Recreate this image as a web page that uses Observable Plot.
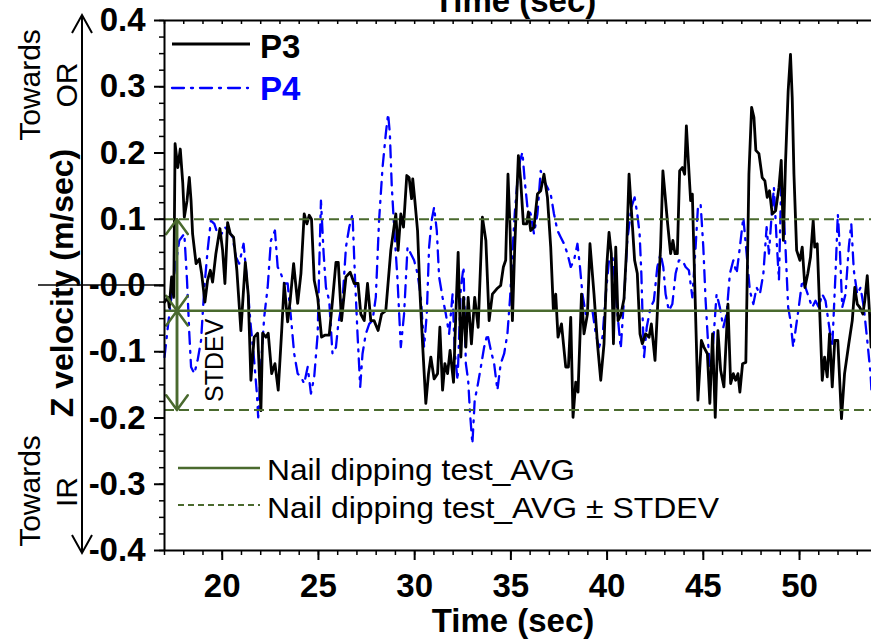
<!DOCTYPE html>
<html><head><meta charset="utf-8">
<script src="https://cdn.jsdelivr.net/npm/d3@7"></script>
<script src="https://cdn.jsdelivr.net/npm/@observablehq/plot@0.6"></script>
<style>
html,body{margin:0;padding:0;background:#fff;}
#chart{width:871px;height:644px;overflow:hidden;}
</style></head><body><div id="chart"></div>
<script>
// ---- data ----
const p3Time = [17.00,17.18,17.25,17.37,17.48,17.55,17.69,17.82,17.95,18.03,
18.17,18.29,18.38,18.46,18.64,18.81,18.93,19.10,19.24,19.38,
19.50,19.67,19.88,20.02,20.14,20.28,20.42,20.59,20.76,20.97,
21.20,21.35,21.49,21.66,21.84,22.01,22.10,22.27,22.39,22.57,
22.74,22.91,23.09,23.22,23.40,23.53,23.71,23.92,24.09,24.26,
24.40,24.52,24.64,24.78,24.96,25.16,25.33,25.56,25.73,25.91,
26.03,26.20,26.43,26.65,26.86,27.06,27.20,27.38,27.55,27.72,
27.89,28.10,28.28,28.50,28.76,29.02,29.14,29.28,29.42,29.59,
29.71,29.84,29.90,30.01,30.15,30.28,30.42,30.58,30.72,30.84,
31.01,31.19,31.31,31.45,31.57,31.71,31.84,32.02,32.14,32.26,
32.40,32.54,32.66,32.78,32.95,33.12,33.30,33.52,33.70,33.87,
34.04,34.27,34.47,34.61,34.73,34.85,34.96,35.08,35.20,35.39,
35.51,35.65,35.82,35.91,36.03,36.20,36.38,36.55,36.72,36.90,
37.07,37.21,37.33,37.45,37.63,37.85,37.99,38.11,38.23,38.37,
38.49,38.67,38.80,38.98,39.11,39.32,39.50,39.67,39.84,39.98,
40.10,40.22,40.33,40.45,40.57,40.71,40.88,41.02,41.14,41.32,
41.43,41.57,41.71,41.83,42.00,42.18,42.30,42.49,42.64,42.78,
42.90,43.01,43.13,43.30,43.42,43.53,43.65,43.77,43.91,44.03,
44.12,44.22,44.34,44.43,44.55,44.72,44.90,45.03,45.21,45.34,
45.48,45.62,45.76,45.90,46.07,46.28,46.42,46.56,46.68,46.80,
46.90,47.04,47.21,47.37,47.51,47.63,47.73,47.89,48.06,48.20,
48.32,48.44,48.58,48.76,48.93,49.05,49.16,49.27,49.41,49.53,
49.62,49.71,49.85,50.02,50.14,50.28,50.43,50.57,50.71,50.79,
50.92,51.06,51.18,51.30,51.44,51.56,51.70,51.83,51.99,52.18,
52.34,52.56,52.74,52.87,53.00,53.13,53.29,53.39,53.52,53.64,
53.72];
const p3Velocity = [-0.025,-0.018,-0.033,0.013,-0.018,0.214,0.178,0.206,0.154,0.103,
0.128,0.163,0.128,0.078,0.033,0.040,0.018,-0.025,0.008,0.023,
0.005,0.048,0.086,0.053,0.003,0.095,0.078,0.073,0.023,-0.068,
0.035,-0.013,-0.143,-0.078,-0.072,-0.189,-0.072,-0.078,-0.072,-0.133,
-0.118,-0.158,-0.068,0.003,-0.055,-0.023,0.033,-0.027,0.018,0.108,
0.093,0.106,0.100,0.008,-0.018,-0.078,-0.075,-0.075,-0.023,0.035,
0.035,-0.053,0.013,0.020,0.003,0.003,-0.043,-0.053,0.003,-0.053,
-0.053,-0.068,-0.043,-0.038,0.053,0.108,0.053,0.108,0.088,0.166,
0.163,0.131,0.161,0.128,0.083,-0.013,-0.093,-0.178,-0.133,-0.108,
-0.141,-0.133,-0.063,-0.158,-0.118,-0.133,-0.098,-0.146,-0.043,0.050,
-0.108,-0.018,-0.093,-0.018,-0.088,-0.018,-0.063,0.103,0.068,-0.053,
-0.013,-0.005,0.000,0.028,0.038,0.168,0.083,-0.053,0.058,0.196,
0.158,0.093,0.093,0.111,0.083,0.088,0.138,0.143,0.168,0.133,
0.058,-0.038,-0.013,-0.078,-0.058,-0.123,-0.123,-0.048,-0.199,-0.146,
-0.161,-0.013,-0.073,-0.043,0.063,-0.013,-0.088,-0.143,-0.088,0.028,
0.080,0.048,-0.088,0.058,-0.053,-0.045,-0.020,0.060,0.168,0.088,
0.038,0.018,-0.073,-0.088,-0.073,-0.078,-0.058,-0.113,-0.023,0.058,
0.173,0.138,0.098,0.048,0.068,0.048,0.048,0.173,0.178,0.168,
0.241,0.189,0.128,0.138,0.008,-0.173,-0.083,-0.093,-0.103,-0.178,
-0.073,-0.199,-0.068,-0.128,-0.153,-0.028,-0.148,-0.133,-0.143,-0.133,
-0.161,-0.118,-0.116,0.168,0.269,0.254,0.204,0.199,0.163,0.158,
0.133,0.143,0.108,0.113,0.148,0.189,0.068,0.184,0.294,0.349,
0.284,0.168,0.053,0.038,0.058,-0.003,0.018,0.043,0.098,0.058,
0.063,-0.048,-0.143,-0.108,-0.138,-0.073,-0.153,-0.083,-0.083,-0.201,
-0.133,-0.088,-0.053,-0.003,-0.028,-0.033,-0.043,-0.023,0.015,-0.043,
-0.093];

const p4Time = [17.00,17.25,17.51,17.77,18.03,18.17,18.29,18.38,18.55,18.72,
18.90,19.07,19.24,19.41,19.59,19.76,19.97,20.14,20.31,20.54,
20.71,20.88,21.11,21.32,21.49,21.66,21.80,21.87,22.01,22.18,
22.36,22.53,22.74,22.88,23.05,23.22,23.40,23.57,23.74,23.92,
24.09,24.26,24.44,24.61,24.78,24.96,25.04,25.13,25.27,25.39,
25.56,25.73,25.91,26.03,26.25,26.43,26.60,26.77,26.89,27.03,
27.17,27.29,27.46,27.64,27.81,27.98,28.15,28.33,28.50,28.62,
28.71,28.81,28.93,29.11,29.28,29.45,29.63,29.80,29.97,30.15,
30.32,30.49,30.63,30.75,30.88,31.01,31.15,31.27,31.45,31.62,
31.79,31.97,32.09,32.23,32.40,32.54,32.66,32.78,32.88,33.00,
33.12,33.26,33.44,33.61,33.78,33.96,34.13,34.30,34.47,34.65,
34.82,34.96,35.08,35.20,35.34,35.48,35.60,35.72,35.86,36.03,
36.20,36.38,36.55,36.72,36.90,37.07,37.24,37.42,37.59,37.76,
37.94,38.11,38.28,38.46,38.59,38.72,38.89,39.06,39.24,39.41,
39.58,39.76,39.93,40.10,40.28,40.40,40.54,40.71,40.88,41.05,
41.26,41.43,41.57,41.69,41.78,41.83,41.92,42.06,42.26,42.43,
42.61,42.78,42.92,43.04,43.21,43.39,43.56,43.73,43.91,44.08,
44.25,44.43,44.60,44.72,44.86,45.00,45.12,45.24,45.38,45.52,
45.69,45.86,46.04,46.21,46.38,46.56,46.73,46.90,47.08,47.25,
47.42,47.60,47.77,47.94,48.12,48.29,48.41,48.53,48.67,48.81,
48.93,49.05,49.16,49.27,49.41,49.53,49.67,49.79,49.96,50.14,
50.31,50.48,50.66,50.83,51.00,51.18,51.35,51.52,51.70,51.87,
51.99,52.09,52.22,52.39,52.56,52.69,52.82,53.00,53.17,53.34,
53.52,53.69,53.74];
const p4Velocity = [-0.108,-0.043,0.018,0.068,0.078,0.008,-0.073,-0.123,-0.133,-0.113,
-0.083,-0.003,0.053,0.098,0.093,0.078,0.078,0.088,0.083,0.073,
0.043,0.033,0.063,-0.003,-0.063,-0.113,-0.163,-0.199,-0.123,-0.048,
-0.003,0.068,0.083,0.028,0.018,0.003,0.003,-0.048,-0.103,-0.133,
-0.138,-0.148,-0.123,-0.163,-0.138,-0.073,0.028,0.128,0.048,-0.003,
-0.023,-0.103,-0.093,-0.058,-0.023,0.058,0.088,0.108,0.018,-0.073,
-0.153,-0.103,-0.073,-0.058,-0.053,-0.018,0.098,0.178,0.229,0.259,
0.230,0.150,0.090,0.008,-0.093,-0.043,0.058,0.048,0.038,0.018,
-0.018,-0.093,-0.043,0.058,0.098,0.118,0.083,0.013,-0.018,-0.043,
-0.073,-0.013,-0.103,-0.143,-0.003,0.028,-0.118,-0.143,-0.194,-0.239,
-0.173,-0.153,-0.123,-0.093,-0.073,-0.098,-0.118,-0.158,-0.118,-0.103,
-0.073,-0.018,0.048,0.108,0.158,0.189,0.201,0.158,0.118,0.108,
0.078,0.108,0.173,0.158,0.148,0.138,0.108,0.083,0.073,0.063,
0.048,0.028,0.038,0.063,0.028,-0.013,-0.043,-0.038,-0.038,-0.073,
-0.093,-0.078,-0.013,0.038,0.043,0.008,-0.043,-0.095,-0.020,0.068,
0.118,0.133,0.108,0.078,0.018,-0.033,-0.108,-0.063,-0.033,-0.023,
0.028,0.048,0.028,-0.013,-0.038,-0.028,0.018,0.038,0.038,0.028,
0.023,-0.018,0.058,0.118,0.123,0.058,-0.023,-0.083,-0.138,-0.083,
-0.013,-0.033,-0.063,-0.043,0.018,0.038,0.018,0.058,0.103,0.048,
-0.008,-0.028,-0.003,-0.013,0.018,0.088,0.048,0.098,0.148,0.068,
0.008,0.158,0.118,0.058,-0.033,-0.053,-0.093,-0.068,-0.033,0.008,
-0.003,-0.018,-0.033,-0.023,-0.033,-0.013,-0.023,-0.058,-0.093,0.018,
0.108,0.058,-0.033,-0.013,0.058,0.093,0.023,-0.013,-0.003,-0.033,
-0.083,-0.133,-0.160];

const avgValue = -0.038;     // Nail dipping test_AVG
const upperValue = 0.100;    // AVG + STDEV
const lowerValue = -0.188;   // AVG - STDEV

const xDomain = [17, 53.74];
const yDomain = [-0.4, 0.4];
const xMajorTicks = [20, 25, 30, 35, 40, 45, 50];
const xMinorTicks = [17,18,19,20,21,22,23,24,25,26,27,28,29,30,31,32,33,34,35,36,37,38,39,40,41,42,43,44,45,46,47,48,49,50,51,52,53];
const yTicks = [-0.4, -0.3, -0.2, -0.1, 0, 0.1, 0.2, 0.3, 0.4];
const yTickLabels = ["-0.4", "-0.3", "-0.2", "-0.1", "-0.0", "0.1", "0.2", "0.3", "0.4"];
const yMinorTicks = [-0.4,-0.375,-0.35,-0.325,-0.3,-0.275,-0.25,-0.225,-0.2,-0.175,-0.15,-0.125,-0.1,-0.075,-0.05,-0.025,0,0.025,0.05,0.075,0.1,0.125,0.15,0.175,0.2,0.225,0.25,0.275,0.3,0.325,0.35,0.375,0.4];

const seriesNames = ["P3", "P4"];
const legendAvgLabels = ["Nail dipping test_AVG", "Nail dipping test_AVG \u00B1 STDEV"];

// ---- styles ----
const FONT = "'Liberation Sans', Arial, Helvetica, sans-serif";
const GREEN = "#4a6a2e";
const BLUE = "#0000ff";
const P4_DASH = "12,7,2,7";

const p3 = p3Time.map((t, i) => ({t, v: p3Velocity[i]}));
const p4 = p4Time.map((t, i) => ({t, v: p4Velocity[i]}));
const stdevArrows = [
  {from: avgValue, to: upperValue},
  {from: upperValue, to: avgValue},
  {from: avgValue, to: lowerValue},
  {from: lowerValue, to: avgValue}
];

const plot = Plot.plot({
  width: 871,
  height: 644,
  marginLeft: 164,
  marginRight: 0,
  marginTop: 20,
  marginBottom: 94,
  style: {fontFamily: FONT, background: "white", color: "black"},
  x: {domain: xDomain},
  y: {domain: yDomain},
  marks: [
    Plot.line(p4, {x: "t", y: "v", stroke: BLUE, strokeWidth: 2.3, strokeDasharray: P4_DASH}),
    Plot.line(p3, {x: "t", y: "v", stroke: "black", strokeWidth: 2.8}),
    Plot.ruleY([upperValue, lowerValue], {stroke: GREEN, strokeWidth: 2, strokeDasharray: "10,5"}),
    Plot.ruleY([avgValue], {stroke: GREEN, strokeWidth: 2.5}),
    Plot.arrow(stdevArrows, {x1: xDomain[0], x2: xDomain[0], y1: "from", y2: "to", dx: 12.5,
      stroke: GREEN, strokeWidth: 2.5, headLength: 11, headAngle: 72}),
    Plot.text(["STDEV"], {x: xDomain[0], y: (avgValue + lowerValue) / 2, dx: 58, rotate: -90,
      textAnchor: "middle", lineAnchor: "bottom", fontSize: 25, fill: "black"}),
    // frame lines
    Plot.ruleX([xDomain[0]], {stroke: "black", strokeWidth: 2}),
    Plot.ruleY([yDomain[0], yDomain[1]], {stroke: "black", strokeWidth: 2}),
    // top inward ticks
    Plot.ruleX(xMinorTicks, {stroke: "black", strokeWidth: 1.5, insetBottom: 526}),
    // axes
    Plot.axisX({ticks: xMinorTicks, tickSize: 5, tickFormat: () => "", label: null, strokeWidth: 1.5}),
    Plot.axisX({ticks: xMajorTicks, tickSize: 10, tickPadding: 13, label: null, strokeWidth: 2,
      fontSize: 33, fontWeight: "bold", tickFormat: d => String(d)}),
    Plot.axisY({ticks: yMinorTicks, tickSize: 5, tickFormat: () => "", label: null, strokeWidth: 1.5}),
    Plot.axisY({ticks: yTicks, tickSize: 10, tickPadding: 9, label: null, strokeWidth: 2,
      fontSize: 33, fontWeight: "bold",
      tickFormat: d => yTickLabels[yTicks.findIndex(t => Math.abs(t - d) < 1e-9)]})
  ]
});

// ---- annotations in the margins ----
const svg = d3.select(plot);
const g = svg.append("g").attr("font-family", FONT).attr("fill", "black").attr("text-anchor", "start");
const yS = plot.scale("y");
const y0 = yS.apply(0);
const yTop = yS.apply(yDomain[1]);
const yBot = yS.apply(yDomain[0]);

// axis titles
g.append("text").attr("x", 513).attr("y", 632).attr("text-anchor", "middle")
  .attr("font-size", 33).attr("font-weight", "bold").text("Time (sec)");
g.append("text").attr("x", 515).attr("y", 12).attr("text-anchor", "middle")
  .attr("font-size", 33).attr("font-weight", "bold").text("Time (sec)");
g.append("text").attr("transform", `translate(73,${y0 - 2}) rotate(-90)`).attr("text-anchor", "middle")
  .attr("font-size", 32).attr("font-weight", "bold").text("Z velocity (m/sec)");

// direction arrow
const ax = 82;
g.append("line").attr("x1", ax).attr("x2", ax).attr("y1", yTop - 5).attr("y2", yBot + 3)
  .attr("stroke", "black").attr("stroke-width", 2);
g.append("path").attr("d", `M${ax - 10},${yTop + 13}L${ax},${yTop - 5}L${ax + 10},${yTop + 13}`)
  .attr("fill", "none").attr("stroke", "black").attr("stroke-width", 2);
g.append("path").attr("d", `M${ax - 10},${yBot - 15}L${ax},${yBot + 3}L${ax + 10},${yBot - 15}`)
  .attr("fill", "none").attr("stroke", "black").attr("stroke-width", 2);
g.append("line").attr("x1", 38).attr("x2", 164).attr("y1", y0).attr("y2", y0)
  .attr("stroke", "black").attr("stroke-width", 1.5);

const rot = (x, y, txt) => g.append("text").attr("transform", `translate(${x},${y}) rotate(-90)`)
  .attr("text-anchor", "middle").attr("font-size", 30).text(txt);
rot(40, 85, "Towards");
rot(77, 85, "OR");
rot(40, 491, "Towards");
rot(77, 492, "IR");

// series legend
g.append("line").attr("x1", 172).attr("x2", 250).attr("y1", 44).attr("y2", 44)
  .attr("stroke", "black").attr("stroke-width", 2.8);
g.append("text").attr("x", 260).attr("y", 58).attr("font-size", 33).attr("font-weight", "bold").text(seriesNames[0]);
g.append("line").attr("x1", 172).attr("x2", 248).attr("y1", 88).attr("y2", 88)
  .attr("stroke", BLUE).attr("stroke-width", 2.3).attr("stroke-dasharray", P4_DASH).attr("stroke-linecap", "round");
g.append("text").attr("x", 260).attr("y", 100).attr("font-size", 33).attr("font-weight", "bold")
  .attr("fill", BLUE).text(seriesNames[1]);

// reference legend
g.append("line").attr("x1", 178).attr("x2", 260).attr("y1", 468).attr("y2", 468)
  .attr("stroke", GREEN).attr("stroke-width", 2.5);
g.append("text").attr("x", 267).attr("y", 480).attr("font-size", 30)
  .attr("textLength", 308).attr("lengthAdjust", "spacingAndGlyphs").text(legendAvgLabels[0]);
g.append("line").attr("x1", 178).attr("x2", 260).attr("y1", 505).attr("y2", 505)
  .attr("stroke", GREEN).attr("stroke-width", 2).attr("stroke-dasharray", "6,4");
g.append("text").attr("x", 267).attr("y", 518).attr("font-size", 30)
  .attr("textLength", 452).attr("lengthAdjust", "spacingAndGlyphs").text(legendAvgLabels[1]);

document.getElementById("chart").appendChild(plot);
</script>
</body></html>
